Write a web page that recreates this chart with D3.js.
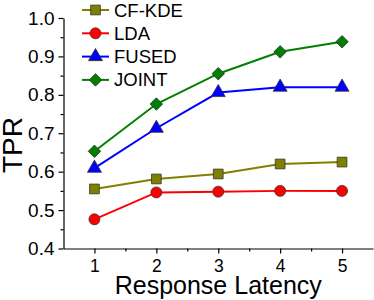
<!DOCTYPE html>
<html lang="en">
<head>
  <meta charset="UTF-8">
  <title>TPR vs Response Latency</title>
  <script src="https://d3js.org/d3.v7.min.js"></script>
  <style>
    body { margin: 0; background: #fff; }
    svg { display: block; font-family: "Liberation Sans", Arial, sans-serif; }
    .axis path, .axis line { stroke: #000; stroke-width: 1.2; }
    .axis text { font-size: 19px; fill: #000; }
    .x-axis text { font-size: 17.5px; }
  </style>
</head>
<body>
  <div id="chart"></div>
  <script>
    // data
    const latency = [1, 2, 3, 4, 5];
    const cfKde = [0.555, 0.581, 0.594, 0.620, 0.625];
    const lda = [0.476, 0.546, 0.548, 0.550, 0.550];
    const fused = [0.609, 0.713, 0.806, 0.820, 0.820];
    const joint = [0.653, 0.776, 0.855, 0.912, 0.938];
    const yTicks = [0.4, 0.5, 0.6, 0.7, 0.8, 0.9, 1.0];

    const series = [
      { name: "CF-KDE", values: cfKde, color: "#808000", symbol: d3.symbolSquare, size: 95, rot: 0 },
      { name: "LDA", values: lda, color: "#ff0000", symbol: d3.symbolCircle, size: 95, rot: 0 },
      { name: "FUSED", values: fused, color: "#0000ff", symbol: d3.symbolTriangle, size: 85, rot: 0 },
      { name: "JOINT", values: joint, color: "#008000", symbol: d3.symbolSquare, size: 78, rot: 45 }
    ];

    const width = 374, height = 300;

    const svg = d3.select("#chart").append("svg")
      .attr("width", width)
      .attr("height", height);

    const x = d3.scaleLinear().domain([0.5, 5.5]).range([63.5, 373]);
    const y = d3.scaleLinear().domain([0.4, 1.0]).range([248.5, 18]);

    // x axis with minor ticks
    svg.append("g")
      .attr("class", "axis")
      .attr("transform", `translate(0,${y(0.4)})`)
      .call(d3.axisBottom(x).tickValues([1.5, 2.5, 3.5, 4.5]).tickSize(3).tickFormat(""))
      .call(g => g.select(".domain").remove());

    svg.append("g")
      .attr("class", "axis x-axis")
      .attr("transform", `translate(0,${y(0.4)})`)
      .call(d3.axisBottom(x).tickValues(latency).tickSize(5).tickSizeOuter(0).tickPadding(6).tickFormat(d3.format("d")));

    // y axis with minor ticks
    svg.append("g")
      .attr("class", "axis")
      .attr("transform", `translate(${x(0.5)},0)`)
      .call(d3.axisLeft(y).tickValues([0.45, 0.55, 0.65, 0.75, 0.85, 0.95]).tickSize(3).tickFormat(""))
      .call(g => g.select(".domain").remove());

    svg.append("g")
      .attr("class", "axis")
      .attr("transform", `translate(${x(0.5)},0)`)
      .call(d3.axisLeft(y).tickValues(yTicks).tickSize(5).tickSizeOuter(0).tickPadding(4).tickFormat(d3.format(".1f")));

    // axis titles
    svg.append("text")
      .attr("x", x(3))
      .attr("y", 294)
      .attr("text-anchor", "middle")
      .style("font-size", "25px")
      .text("Response Latency");

    svg.append("text")
      .attr("transform", "translate(22,145) rotate(-90)")
      .attr("text-anchor", "middle")
      .style("font-size", "28px")
      .text("TPR");

    // lines and markers
    const line = d3.line()
      .x((d, i) => x(latency[i]))
      .y(d => y(d));

    series.forEach(s => {
      svg.append("path")
        .datum(s.values)
        .attr("fill", "none")
        .attr("stroke", s.color)
        .attr("stroke-width", 2)
        .attr("d", line);

      svg.selectAll(null)
        .data(s.values)
        .enter()
        .append("path")
        .attr("d", d3.symbol().type(s.symbol).size(s.size))
        .attr("transform", (d, i) => `translate(${x(latency[i])},${y(d)}) rotate(${s.rot})`)
        .attr("fill", s.color)
        .attr("stroke", "#333")
        .attr("stroke-width", 0.8);
    });

    // legend
    const legend = svg.append("g").attr("transform", "translate(82,10)");
    series.forEach((s, i) => {
      const row = legend.append("g").attr("transform", `translate(0,${i * 23.3})`);
      row.append("line")
        .attr("x1", 0).attr("x2", 27)
        .attr("stroke", s.color)
        .attr("stroke-width", 2);
      row.append("path")
        .attr("d", d3.symbol().type(s.symbol).size(s.size))
        .attr("transform", `translate(13.5,0) rotate(${s.rot})`)
        .attr("fill", s.color)
        .attr("stroke", "#333")
        .attr("stroke-width", 0.8);
      row.append("text")
        .attr("x", 32)
        .attr("y", 6.5)
        .style("font-size", "18.5px")
        .text(s.name);
    });
  </script>
</body>
</html>
